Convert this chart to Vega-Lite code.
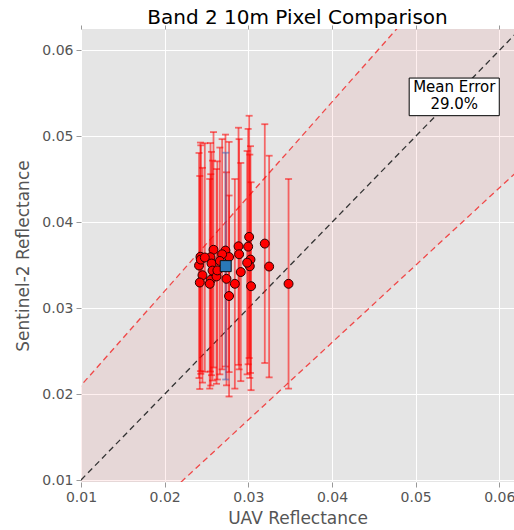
{
  "$schema": "https://vega.github.io/schema/vega-lite/v6.json",
  "autosize": {"type": "none"},
  "padding": {"left": 81, "top": 29, "right": 0, "bottom": 47},
  "width": 433,
  "height": 453,
  "background": "white",
  "config": {
    "font": "DejaVu Sans",
    "view": {"fill": "#E5E5E5", "stroke": null},
    "scale": {"continuousPadding": 0},
    "axis": {
      "grid": true, "gridColor": "white", "gridWidth": 1,
      "domain": false, "tickColor": "#999999", "tickSize": 5, "tickWidth": 1,
      "labelColor": "#555555", "labelFontSize": 14, "labelPadding": 3, "labelFlush": false,
      "titleColor": "#555555", "titleFontSize": 17, "titleFontWeight": "normal"
    }
  },
  "title": {"text": "Band 2 10m Pixel Comparison", "fontSize": 20, "fontWeight": "normal", "color": "black", "offset": -3},
  "resolve": {"axis": {"x": "independent"}},
  "datasets": {
    "band": [
      {"x": 0.0, "lo": -0.01, "hi": 0.01},
      {"x": 0.07, "lo": 0.053, "hi": 0.087}
    ],
    "lines": [
      {"x": 0.0, "y": 0.0, "kind": "one-to-one"},
      {"x": 0.07, "y": 0.07, "kind": "one-to-one"},
      {"x": 0.0, "y": 0.01, "kind": "upper"},
      {"x": 0.07, "y": 0.087, "kind": "upper"},
      {"x": 0.0, "y": -0.01, "kind": "lower"},
      {"x": 0.07, "y": 0.053, "kind": "lower"}
    ],
    "pixels": [
      {"uav": 0.03010, "s2": 0.03830, "lo": 0.02420, "hi": 0.05240},
      {"uav": 0.02998, "s2": 0.03717, "lo": 0.02347, "hi": 0.05087},
      {"uav": 0.03197, "s2": 0.03752, "lo": 0.02362, "hi": 0.05142},
      {"uav": 0.02883, "s2": 0.03721, "lo": 0.02341, "hi": 0.05101},
      {"uav": 0.02890, "s2": 0.03628, "lo": 0.02288, "hi": 0.04968},
      {"uav": 0.02584, "s2": 0.03680, "lo": 0.02310, "hi": 0.05050},
      {"uav": 0.02727, "s2": 0.03671, "lo": 0.02321, "hi": 0.05021},
      {"uav": 0.02770, "s2": 0.03596, "lo": 0.02256, "hi": 0.04936},
      {"uav": 0.02687, "s2": 0.03628, "lo": 0.02288, "hi": 0.04968},
      {"uav": 0.02428, "s2": 0.03598, "lo": 0.02268, "hi": 0.04928},
      {"uav": 0.02411, "s2": 0.03497, "lo": 0.02187, "hi": 0.04807},
      {"uav": 0.02432, "s2": 0.03566, "lo": 0.02236, "hi": 0.04896},
      {"uav": 0.02548, "s2": 0.03593, "lo": 0.02263, "hi": 0.04923},
      {"uav": 0.02560, "s2": 0.03520, "lo": 0.02220, "hi": 0.04820},
      {"uav": 0.02572, "s2": 0.03438, "lo": 0.02158, "hi": 0.04718},
      {"uav": 0.02452, "s2": 0.03384, "lo": 0.02134, "hi": 0.04634},
      {"uav": 0.02551, "s2": 0.03330, "lo": 0.02100, "hi": 0.04560},
      {"uav": 0.02420, "s2": 0.03299, "lo": 0.02059, "hi": 0.04539},
      {"uav": 0.02539, "s2": 0.03284, "lo": 0.02064, "hi": 0.04504},
      {"uav": 0.02620, "s2": 0.03370, "lo": 0.02120, "hi": 0.04620},
      {"uav": 0.02660, "s2": 0.03550, "lo": 0.02230, "hi": 0.04870},
      {"uav": 0.02739, "s2": 0.03342, "lo": 0.02102, "hi": 0.04582},
      {"uav": 0.02770, "s2": 0.03142, "lo": 0.01972, "hi": 0.04312},
      {"uav": 0.02839, "s2": 0.03284, "lo": 0.02064, "hi": 0.04504},
      {"uav": 0.02910, "s2": 0.03421, "lo": 0.02151, "hi": 0.04691},
      {"uav": 0.03026, "s2": 0.03566, "lo": 0.02246, "hi": 0.04886},
      {"uav": 0.03018, "s2": 0.03488, "lo": 0.02188, "hi": 0.04788},
      {"uav": 0.03249, "s2": 0.03485, "lo": 0.02195, "hi": 0.04775},
      {"uav": 0.03033, "s2": 0.03256, "lo": 0.02046, "hi": 0.04466},
      {"uav": 0.03481, "s2": 0.03284, "lo": 0.02064, "hi": 0.04504},
      {"uav": 0.02986, "s2": 0.03530, "lo": 0.02230, "hi": 0.04830},
      {"uav": 0.02480, "s2": 0.03590, "lo": 0.02260, "hi": 0.04920},
      {"uav": 0.02630, "s2": 0.03440, "lo": 0.02170, "hi": 0.04710}
    ],
    "mean": [
      {"uav": 0.0273, "s2": 0.0349, "lo": 0.0217, "hi": 0.0481}
    ]
  },
  "layer": [
    {
      "data": {"name": "band"},
      "mark": {"type": "area", "color": "#ff0000", "opacity": 0.06, "clip": true},
      "encoding": {
        "x": {"field": "x", "type": "quantitative", "title": "UAV Reflectance",
              "scale": {"domain": [0.01, 0.06176], "nice": false, "zero": false, "padding": 0},
              "axis": {"values": [0.01, 0.02, 0.03, 0.04, 0.05, 0.06], "format": ".2f", "titlePadding": 6}},
        "y": {"field": "lo", "type": "quantitative", "title": "Sentinel-2 Reflectance",
              "scale": {"domain": [0.00977, 0.0625], "nice": false, "zero": false, "padding": 0},
              "axis": {"values": [0.01, 0.02, 0.03, 0.04, 0.05, 0.06], "format": ".2f", "titlePadding": 9}},
        "y2": {"field": "hi"}
      }
    },
    {
      "data": {"name": "lines"},
      "mark": {"type": "line", "strokeDash": [6, 4], "strokeWidth": 1.3, "clip": true},
      "encoding": {
        "x": {"field": "x", "type": "quantitative", "axis": null,
              "scale": {"domain": [0.01, 0.06176], "nice": false, "zero": false, "padding": 0}},
        "y": {"field": "y", "type": "quantitative", "title": "Sentinel-2 Reflectance",
              "scale": {"domain": [0.00977, 0.0625], "nice": false, "zero": false, "padding": 0}},
        "color": {"field": "kind", "type": "nominal",
                  "scale": {"domain": ["one-to-one", "upper", "lower"], "range": ["#333333", "#f04848", "#f04848"]},
                  "legend": null}
      }
    },
    {
      "data": {"name": "pixels"},
      "mark": {"type": "errorbar", "ticks": true, "color": "#ff0000", "opacity": 0.55, "thickness": 1.8, "size": 7, "clip": true},
      "encoding": {
        "x": {"field": "uav", "type": "quantitative", "axis": null,
              "scale": {"domain": [0.01, 0.06176], "nice": false, "zero": false, "padding": 0}},
        "y": {"field": "lo", "type": "quantitative", "title": "Sentinel-2 Reflectance",
              "scale": {"domain": [0.00977, 0.0625], "nice": false, "zero": false, "padding": 0}},
        "y2": {"field": "hi"}
      }
    },
    {
      "data": {"name": "mean"},
      "mark": {"type": "errorbar", "ticks": true, "color": "#4a62b0", "opacity": 0.55, "thickness": 1.8, "size": 7, "clip": true},
      "encoding": {
        "x": {"field": "uav", "type": "quantitative", "axis": null,
              "scale": {"domain": [0.01, 0.06176], "nice": false, "zero": false, "padding": 0}},
        "y": {"field": "lo", "type": "quantitative", "title": "Sentinel-2 Reflectance",
              "scale": {"domain": [0.00977, 0.0625], "nice": false, "zero": false, "padding": 0}},
        "y2": {"field": "hi"}
      }
    },
    {
      "data": {"name": "pixels"},
      "mark": {"type": "point", "shape": "circle", "filled": true, "size": 80, "color": "#ff0000", "stroke": "#2a0000", "strokeWidth": 1, "opacity": 1},
      "encoding": {
        "x": {"field": "uav", "type": "quantitative", "axis": null,
              "scale": {"domain": [0.01, 0.06176], "nice": false, "zero": false, "padding": 0}},
        "y": {"field": "s2", "type": "quantitative", "title": "Sentinel-2 Reflectance",
              "scale": {"domain": [0.00977, 0.0625], "nice": false, "zero": false, "padding": 0}}
      }
    },
    {
      "data": {"name": "mean"},
      "mark": {"type": "point", "shape": "square", "filled": true, "size": 121, "color": "#2a78b8", "stroke": "#111111", "strokeWidth": 1, "opacity": 1},
      "encoding": {
        "x": {"field": "uav", "type": "quantitative", "axis": null,
              "scale": {"domain": [0.01, 0.06176], "nice": false, "zero": false, "padding": 0}},
        "y": {"field": "s2", "type": "quantitative", "title": "Sentinel-2 Reflectance",
              "scale": {"domain": [0.00977, 0.0625], "nice": false, "zero": false, "padding": 0}}
      }
    },
    {
      "data": {"values": [{}]},
      "mark": {"type": "rect", "fill": "white", "stroke": "black", "strokeWidth": 1},
      "encoding": {
        "x": {"datum": 0.04923, "type": "quantitative",
              "axis": {"orient": "top", "values": [0.01, 0.02, 0.03, 0.04, 0.05, 0.06], "labels": false, "grid": false, "title": null, "tickSize": 4, "labelPadding": 0}},
        "x2": {"datum": 0.0600},
        "y": {"datum": 0.05241, "type": "quantitative", "title": "Sentinel-2 Reflectance"},
        "y2": {"datum": 0.05679}
      }
    },
    {
      "data": {"values": [{}]},
      "mark": {"type": "text", "text": ["Mean Error", "29.0%"], "fontSize": 15, "color": "black", "align": "center", "baseline": "middle", "lineHeight": 17},
      "encoding": {
        "x": {"datum": 0.05462, "type": "quantitative", "axis": null},
        "y": {"datum": 0.05572, "type": "quantitative", "title": "Sentinel-2 Reflectance"}
      }
    }
  ]
}
